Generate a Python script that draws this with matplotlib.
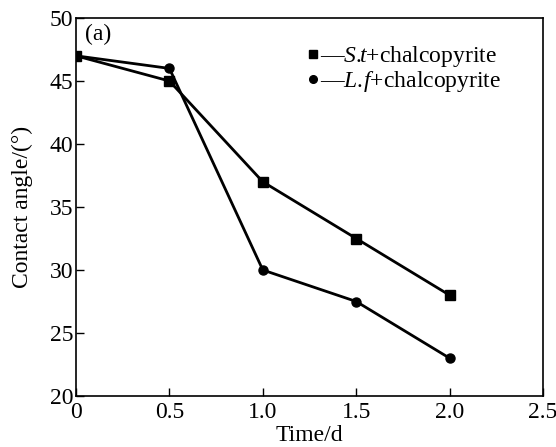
import matplotlib.pyplot as plt
from matplotlib.lines import Line2D

plt.rcParams['font.family'] = ['Liberation Serif', 'DejaVu Serif']
plt.rcParams['mathtext.fontset'] = 'custom'
plt.rcParams['mathtext.it'] = 'Liberation Serif:italic'
plt.rcParams['mathtext.rm'] = 'Liberation Serif'

time_d = [0, 0.5, 1.0, 1.5, 2.0]
st_angle = [47, 45, 37, 32.5, 28]
lf_angle = [47, 46, 30, 27.5, 23]
x_ticks = [0, 0.5, 1.0, 1.5, 2.0, 2.5]
x_tick_labels = ['0', '0.5', '1.0', '1.5', '2.0', '2.5']
y_ticks = [20, 25, 30, 35, 40, 45, 50]

fig = plt.figure(figsize=(5.56, 4.47), dpi=100)
ax = fig.add_axes([0.1367, 0.1141, 0.84, 0.8456])

ax.plot(time_d, st_angle, color='black', lw=2, marker='s', ms=6.5)
ax.plot(time_d, lf_angle, color='black', lw=2, marker='o', ms=6.5)

ax.set_xlim(0, 2.5)
ax.set_ylim(20, 50)
ax.set_xticks(x_ticks)
ax.set_xticklabels(x_tick_labels)
ax.set_yticks(y_ticks)
ax.tick_params(direction='in', length=6, width=1, labelsize=17, pad=2)
ax.tick_params(axis='x', pad=4)
for s in ax.spines.values():
    s.set_linewidth(1.2)

ax.set_xlabel('Time/d', fontsize=17, labelpad=2)
ax.set_ylabel('Contact angle/(°)', fontsize=17, labelpad=12)
ax.text(0.02, 0.985, '(a)', transform=ax.transAxes, fontsize=17, va='top', ha='left')

handles = [Line2D([], [], color='black', marker='s', ls='none', ms=5.5),
           Line2D([], [], color='black', marker='o', ls='none', ms=5.5)]
labels = ['\u2014' + r'$\mathit{S.\!\!t}$' + '+chalcopyrite',
          '\u2014' + r'$\mathit{L.\!f}$' + '+chalcopyrite']
ax.legend(handles, labels, loc='upper right', bbox_to_anchor=(0.945, 0.975),
          frameon=False, fontsize=17, handlelength=0.6, handletextpad=0.0,
          labelspacing=0.0, borderpad=0.2)

fig.savefig('out.png', dpi=100)
